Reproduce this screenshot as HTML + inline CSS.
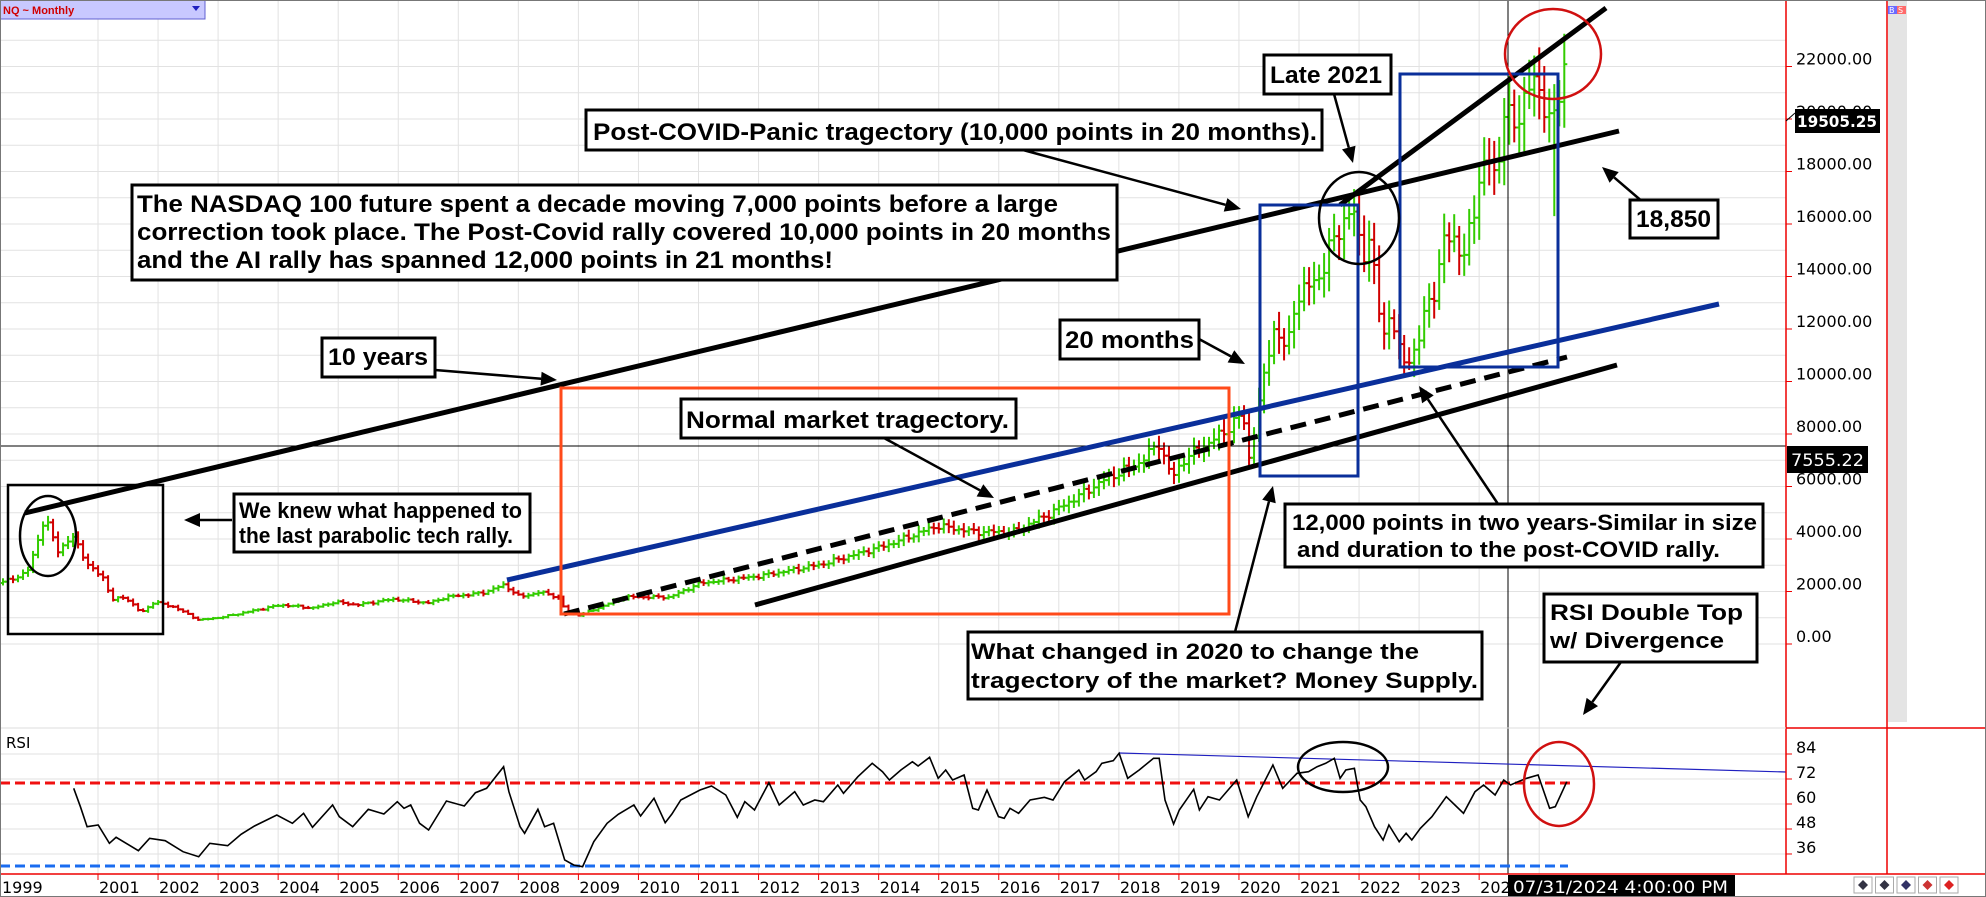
<!DOCTYPE html>
<html><head><meta charset="utf-8"><style>
html,body{margin:0;padding:0;background:#fff;}
svg{display:block;}
</style></head><body>
<svg id="s" width="1986" height="897" viewBox="0 0 1986 897" xmlns="http://www.w3.org/2000/svg" font-family="Liberation Sans, Arial, sans-serif">
<rect x="0" y="0" width="1986" height="897" fill="#fff"/>
<g id="grid" stroke="#e2e2e2" stroke-width="1"></g>
<g id="bars"></g>
<line x1="0" y1="446" x2="1786" y2="446" stroke="#000" stroke-width="1"/>
<line x1="1508" y1="0" x2="1508" y2="874" stroke="#000" stroke-width="1"/>
<line x1="25" y1="513" x2="1619" y2="131" stroke="#000" stroke-width="5"/>
<line x1="1340" y1="205" x2="1606" y2="8" stroke="#000" stroke-width="5"/>
<line x1="507" y1="580" x2="1719" y2="304" stroke="#0a2f9a" stroke-width="5"/>
<line x1="564" y1="614" x2="1567" y2="357" stroke="#000" stroke-width="5" stroke-dasharray="16,9"/>
<line x1="755" y1="605" x2="1617" y2="365" stroke="#000" stroke-width="5"/>
<rect x="561" y="388" width="668" height="226" fill="none" stroke="#ff4a1a" stroke-width="3"/>
<rect x="1260" y="205" width="98" height="271" fill="none" stroke="#0a2f9a" stroke-width="3"/>
<rect x="1400" y="74" width="158" height="293" fill="none" stroke="#0a2f9a" stroke-width="3"/>
<rect x="8" y="485" width="155" height="149" fill="none" stroke="#000" stroke-width="2.5"/>
<ellipse cx="48" cy="536" rx="28" ry="40" fill="none" stroke="#000" stroke-width="2.5"/>
<ellipse cx="1359" cy="218" rx="40" ry="46" fill="none" stroke="#000" stroke-width="2.5"/>
<ellipse cx="1553" cy="54" rx="48" ry="45" fill="none" stroke="#d01010" stroke-width="2.5"/>
<line x1="0" y1="783" x2="1570" y2="783" stroke="#f01010" stroke-width="3" stroke-dasharray="10,5"/>
<line x1="0" y1="866" x2="1568" y2="866" stroke="#1a6cf0" stroke-width="3" stroke-dasharray="10,5"/>
<line x1="1119" y1="753" x2="1786" y2="772" stroke="#2020c0" stroke-width="1.2"/>
<polyline id="rsi" fill="none" stroke="#000" stroke-width="1.6"/>
<ellipse cx="1343" cy="767" rx="45" ry="25" fill="none" stroke="#000" stroke-width="2.5"/>
<ellipse cx="1559" cy="784" rx="35" ry="42" fill="none" stroke="#d01010" stroke-width="2.5"/>
<text x="6" y="748" font-family="DejaVu Sans, sans-serif" font-size="15">RSI</text>
<g id="arrows" stroke="#000" stroke-width="2.5" fill="#000"></g>
<g font-weight="bold" font-size="24" fill="#000">
<rect x="1264" y="55" width="127" height="39" fill="#fff" stroke="#000" stroke-width="3"/>
<text x="1270" y="83" textLength="112" lengthAdjust="spacingAndGlyphs">Late 2021</text>
<rect x="586" y="110" width="736" height="40" fill="#fff" stroke="#000" stroke-width="3"/>
<text x="593" y="140" textLength="724" lengthAdjust="spacingAndGlyphs">Post-COVID-Panic tragectory (10,000 points in 20 months).</text>
<rect x="132" y="185" width="985" height="95" fill="#fff" stroke="#000" stroke-width="3"/>
<text x="137" y="212" textLength="921" lengthAdjust="spacingAndGlyphs">The NASDAQ 100 future spent a decade moving 7,000 points before a large</text>
<text x="137" y="240" textLength="974" lengthAdjust="spacingAndGlyphs">correction took place. The Post-Covid rally covered 10,000 points in 20 months</text>
<text x="137" y="268" textLength="696" lengthAdjust="spacingAndGlyphs">and the AI rally has spanned 12,000 points in 21 months!</text>
<rect x="322" y="338" width="113" height="39" fill="#fff" stroke="#000" stroke-width="3"/>
<text x="328" y="365" textLength="100" lengthAdjust="spacingAndGlyphs">10 years</text>
<rect x="1060" y="320" width="139" height="39" fill="#fff" stroke="#000" stroke-width="3"/>
<text x="1065" y="348" textLength="129" lengthAdjust="spacingAndGlyphs">20 months</text>
<rect x="1630" y="200" width="88" height="38" fill="#fff" stroke="#000" stroke-width="3"/>
<text x="1636" y="227" textLength="75" lengthAdjust="spacingAndGlyphs">18,850</text>
<rect x="681" y="399" width="335" height="39" fill="#fff" stroke="#000" stroke-width="3"/>
<text x="686" y="428" textLength="323" lengthAdjust="spacingAndGlyphs">Normal market tragectory.</text>
</g>
<g font-weight="bold" font-size="22" fill="#000">
<rect x="234" y="494" width="296" height="58" fill="#fff" stroke="#000" stroke-width="3"/>
<text x="239" y="518" textLength="283" lengthAdjust="spacingAndGlyphs">We knew what happened to</text>
<text x="239" y="543" textLength="274" lengthAdjust="spacingAndGlyphs">the last parabolic tech rally.</text>
<rect x="1285" y="504" width="478" height="63" fill="#fff" stroke="#000" stroke-width="3"/>
<text x="1292" y="530" textLength="465" lengthAdjust="spacingAndGlyphs">12,000 points in two years-Similar in size</text>
<text x="1297" y="557" textLength="423" lengthAdjust="spacingAndGlyphs">and duration to the post-COVID rally.</text>
<rect x="968" y="632" width="514" height="67" fill="#fff" stroke="#000" stroke-width="3"/>
<text x="971" y="659" textLength="448" lengthAdjust="spacingAndGlyphs">What changed in 2020 to change the</text>
<text x="971" y="688" textLength="507" lengthAdjust="spacingAndGlyphs">tragectory of the market? Money Supply.</text>
<rect x="1544" y="594" width="213" height="68" fill="#fff" stroke="#000" stroke-width="3"/>
<text x="1550" y="620" textLength="193" lengthAdjust="spacingAndGlyphs">RSI Double Top</text>
<text x="1550" y="648" textLength="174" lengthAdjust="spacingAndGlyphs">w/ Divergence</text>
</g>
<rect x="1888" y="0" width="19" height="722" fill="#e4e4e4"/>
<rect x="1888" y="6" width="9" height="8" fill="#6a6aff"/><rect x="1897" y="6" width="9" height="8" fill="#ff6a6a"/>
<text x="1889" y="13" font-size="8" fill="#fff" font-family="DejaVu Sans,sans-serif">B</text><text x="1898" y="13" font-size="8" fill="#fff" font-family="DejaVu Sans,sans-serif">S</text>
<line x1="1786" y1="0" x2="1786" y2="874" stroke="#e00" stroke-width="1.5"/>
<line x1="1887" y1="0" x2="1887" y2="874" stroke="#e00" stroke-width="1.5"/>
<line x1="1786" y1="728" x2="1986" y2="728" stroke="#e00" stroke-width="1.5"/>
<line x1="0" y1="728" x2="1786" y2="728" stroke="#ddd" stroke-width="1"/>
<line x1="0" y1="874" x2="1986" y2="874" stroke="#e00" stroke-width="1.5"/>
<g id="axis" font-family="DejaVu Sans, sans-serif" font-size="16" fill="#000"></g>
<rect x="1787" y="446" width="81" height="27" fill="#000"/>
<text x="1791" y="466" font-family="DejaVu Sans, sans-serif" font-size="17" fill="#fff" textLength="73" lengthAdjust="spacingAndGlyphs">7555.22</text>
<line x1="1786" y1="121" x2="1795" y2="113" stroke="#000"/>
<rect x="1795" y="109" width="85" height="24" fill="#000"/>
<text x="1797" y="127" font-family="DejaVu Sans, sans-serif" font-size="16" font-weight="bold" fill="#fff" textLength="80" lengthAdjust="spacingAndGlyphs">19505.25</text>
<rect x="1508" y="875" width="227" height="21" fill="#000"/>
<text x="1513" y="893" font-family="DejaVu Sans, sans-serif" font-size="17" fill="#fff" textLength="215" lengthAdjust="spacingAndGlyphs">07/31/2024 4:00:00 PM</text>
<g id="btns"></g>
<rect x="0" y="0" width="205" height="19" fill="#c8c8ff" stroke="#6060d0"/>
<text x="3" y="14" font-size="11" fill="#d00000" font-weight="bold">NQ ~ Monthly</text>
<polygon points="192,6 200,6 196,11" fill="#2020c0"/>
<rect x="0.5" y="0.5" width="1985" height="896" fill="none" stroke="#777"/>
</svg>
<script>
(function(){
var NS="http://www.w3.org/2000/svg";
function el(p,t,a){var e=document.createElementNS(NS,t);for(var k in a)e.setAttribute(k,a[k]);p.appendChild(e);return e;}
var grid=document.getElementById('grid');
function py(p){return 644-p*0.02625;}
function yx(t){return 98+(t-2001)*60.05;}
for(var p=0;p<=23000;p+=1000){el(grid,'line',{x1:0,x2:1786,y1:py(p),y2:py(p)});}
[754,779,804,829,854].forEach(function(y){el(grid,'line',{x1:0,x2:1786,y1:y,y2:y});});
for(var yr=2001;yr<=2025;yr++){var x=yx(yr);el(grid,'line',{x1:x,x2:x,y1:0,y2:874});}
var ax=document.getElementById('axis');
for(var p=0;p<=22000;p+=2000){var y=py(p);el(ax,'line',{x1:1786,x2:1792,y1:y,y2:y,stroke:'#e00'});
 var t=el(ax,'text',{x:1796,y:y-2});t.textContent=p.toFixed(2);}
[84,72,60,48,36].forEach(function(v){var y=754+(84-v)*2.083;el(ax,'line',{x1:1786,x2:1792,y1:y,y2:y,stroke:'#e00'});var t=el(ax,'text',{x:1796,y:y-1});t.textContent=v;});
var t=el(ax,'text',{x:2,y:893});t.textContent='1999';
for(var yr=2001;yr<=2024;yr++){var x=yx(yr);el(ax,'line',{x1:x,x2:x,y1:874,y2:880,stroke:'#e00'});var tt=el(ax,'text',{x:x+1,y:893});tt.textContent=(yr==2024?'202':''+yr);}
var pts=[[0,2324],[27,2700],[45,4800],[58,3580],[74,4080],[89,2930],[103,2550],[112,1670],[125,1800],[141,1180],[154,1600],[174,1410],[199,910],[223,1030],[281,1490],[313,1370],[335,1600],[357,1490],[393,1710],[429,1560],[446,1790],[482,1940],[504,2250],[520,1790],[540,1980],[558,1790],[567,1180],[580,1100],[625,1790],[670,1790],[700,2320],[760,2590],[823,3050],[887,3770],[937,4500],[975,4270],[1013,4270],[1051,4990],[1102,6200],[1140,6930],[1159,7650],[1172,6300],[1183,7000],[1223,8040],[1243,8800],[1248,6900],[1260,9300],[1273,12080],[1287,11090],[1293,12840],[1313,13870],[1323,14130],[1333,15500],[1353,16530],[1363,14900],[1370,15280],[1383,11700],[1390,12610],[1398,11200],[1407,10820],[1417,11090],[1427,13220],[1437,13370],[1443,15400],[1452,15770],[1463,14360],[1470,16030],[1480,17680],[1490,18550],[1497,17680],[1503,20230],[1508,19960],[1517,19850],[1523,20720],[1533,21370],[1542,21100],[1548,19850],[1553,19850],[1562,21370],[1567,22930]];
function interp(x){for(var i=1;i<pts.length;i++){if(x<=pts[i][0]){var a=pts[i-1],b=pts[i];return a[1]+(b[1]-a[1])*(x-a[0])/(b[0]-a[0]);}}return pts[pts.length-1][1];}
var bars=document.getElementById('bars');
var prev=interp(0);var step=60.05/12;var i=0;
for(var x=3;x<=1567.5;x+=step){i++;
 var c=interp(x)*(1+0.03*Math.sin(i*2.7)*Math.cos(i*1.3));
 if(x>1566)c=22930;
 var o=prev;var hi=Math.max(o,c)*(1+0.025+0.03*Math.abs(Math.sin(i*1.7)));var lo=Math.min(o,c)*(1-0.025-0.03*Math.abs(Math.cos(i*2.1)));
 if(Math.abs(x-1553)<3)lo=16300;
 var col=c>=o?'#33cc00':'#d00000';
 el(bars,'line',{x1:x,x2:x,y1:py(hi),y2:py(lo),stroke:col,'stroke-width':2});
 el(bars,'line',{x1:x-3,x2:x,y1:py(o),y2:py(o),stroke:col,'stroke-width':2});
 el(bars,'line',{x1:x,x2:x+3,y1:py(c),y2:py(c),stroke:col,'stroke-width':2});
 prev=c;}
var r1=[[165,205],[180,260],[195,320],[220,315],[245,370],[260,352],[310,392],[335,355],[370,362],[410,395],[445,410],[470,370],[510,377],[540,343],[570,318],[620,285],[655,310],[680,280],[700,322],[745,255],[760,290],[790,320],[825,268],[860,282],[890,245],[905,265],[920,255],[940,310],[960,330],[1000,243],[1040,258],[1065,218],[1090,205],[1128,140],[1140,215],[1165,320],[1175,340],[1205,268],[1220,320],[1240,310],[1265,420],[1285,435],[1305,440],[1330,365],[1360,310],[1385,283],[1420,255],[1435,288],[1465,235],[1490,308],[1505,282],[1525,240],[1568,210]];
var r2=[[20,198],[45,225],[65,292],[78,245],[95,270],[120,188],[138,255],[165,215],[180,255],[200,240],[215,245],[240,195],[250,220],[275,170],[300,130],[318,155],[330,180],[350,150],[370,125],[380,138],[400,112],[415,175],[428,150],[440,180],[460,165],[475,265],[485,270],[500,210],[520,290],[530,295],[540,265],[555,280],[575,240],[600,232],[615,240],[635,185],[660,150],[670,180],[690,155],[700,130],[720,122],[730,100],[745,175],[765,150],[790,115],[800,115],[810,240],[825,312],[835,270],[860,208],[870,270],[885,230],[905,240],[935,180],[955,290],[970,230],[998,135],[1015,205],[1040,160],[1060,155],[1075,140],[1090,130],[1105,115],[1115,175],[1125,150],[1140,145],[1150,240],[1160,260],[1175,320],[1190,360],[1200,315],[1218,365],[1230,340],[1240,360],[1255,325],[1275,290],[1300,230],[1315,255],[1330,280],[1350,215],[1365,195],[1385,225],[1400,180],[1412,195],[1425,185],[1440,175],[1460,165],[1480,265],[1490,260],[1510,185]];
var s=[];r1.forEach(function(q){s.push((q[0]/2.24).toFixed(1)+','+(720+q[1]/3).toFixed(1));});
r2.forEach(function(q){s.push((700+q[0]/1.742).toFixed(1)+','+(720+q[1]/3).toFixed(1));});
document.getElementById('rsi').setAttribute('points',s.join(' '));
var ar=document.getElementById('arrows');
function arrow(x1,y1,x2,y2){var dx=x2-x1,dy=y2-y1,L=Math.sqrt(dx*dx+dy*dy),ux=dx/L,uy=dy/L,h=16,w=7;
 var bx=x2-ux*h,by=y2-uy*h;el(ar,'line',{x1:x1,y1:y1,x2:bx,y2:by});
 el(ar,'polygon',{points:x2+','+y2+' '+(bx-uy*w)+','+(by+ux*w)+' '+(bx+uy*w)+','+(by-ux*w),stroke:'none'});}
arrow(1023,150,1241,209);
arrow(1334,94,1353,163);
arrow(435,370,557,380);
arrow(1199,339,1245,364);
arrow(884,438,994,498);
arrow(232,520,184,520);
arrow(1644,203,1602,167);
arrow(1498,504,1419,386);
arrow(1235,632,1273,486);
arrow(1621,662,1583,715);
var b=document.getElementById('btns');var cols=['#334','#334','#336','#c33','#d22'];
for(var k=0;k<5;k++){var x=1854+k*21.5;el(b,'rect',{x:x,y:877,width:18,height:16,fill:'#fff',stroke:'#aaa'});
 el(b,'polygon',{points:(x+9)+',880 '+(x+14)+',885 '+(x+9)+',890 '+(x+4)+',885',fill:cols[k]});}
})();
</script>
</body></html>
